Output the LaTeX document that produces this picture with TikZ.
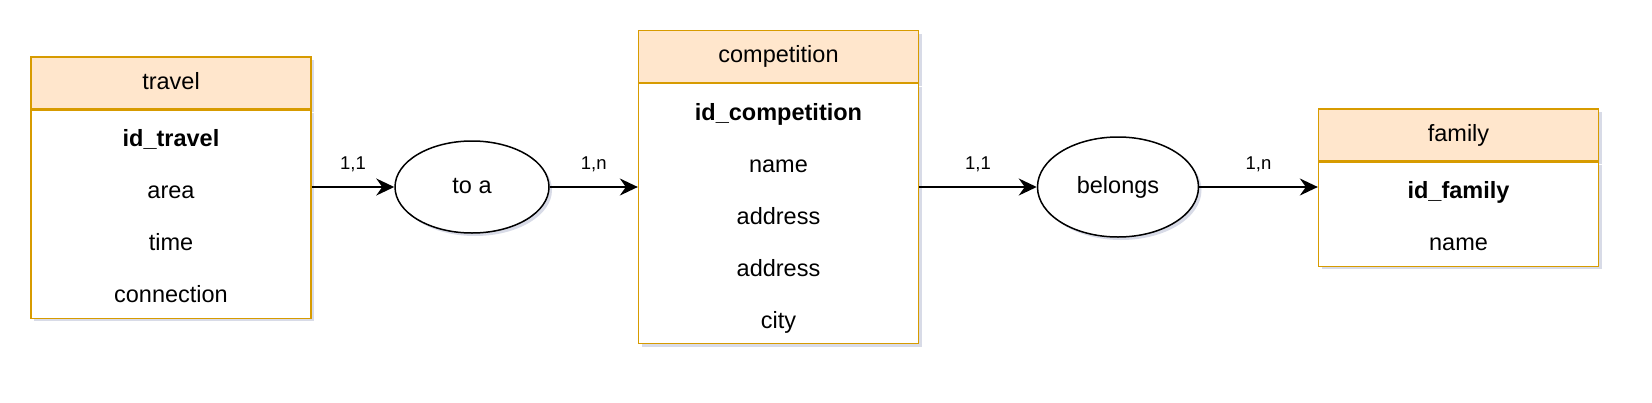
\documentclass[tikz,border=0pt]{standalone}
\usepackage{fontspec}
\setmainfont{Liberation Sans}
\usetikzlibrary{positioning,arrows.meta,shapes.geometric,shadows}

\definecolor{headfill}{HTML}{FFE6CC}
\definecolor{headline}{HTML}{D79B00}
\definecolor{shadecol}{HTML}{7F87B0}

% room above the first and below the last attribute
\newcommand\rowtop{\rule{0pt}{36.4pt}}
\newcommand\rowbot{\rule[-15.6pt]{0pt}{15.6pt}}

\begin{document}
\begin{tikzpicture}[
x=1pt, y=-1pt,
node distance=0pt,
shadowed/.style={
drop shadow={shadow xshift=3pt, shadow yshift=-3pt, fill=shadecol, opacity=0.3}
},
entityhead/.style={
shadowed,
draw=headline,
fill=headfill,
line width=1.3pt,
minimum width=280pt,
minimum height=52pt,
inner sep=0pt,
text height=17pt,
text depth=5pt,
font=\fontsize{23.5}{28}\selectfont
},
entitybody/.style={
shadowed,
draw=headline,
fill=white,
line width=1.3pt,
minimum width=280pt,
inner sep=0pt,
align=center,
font=\fontsize{23.5}{52}\selectfont
},
relation/.style={
shadowed,
ellipse,
draw,
fill=white,
line width=1.5pt,
inner sep=0pt,
text height=17pt,
text depth=5pt,
font=\fontsize{23.5}{28}\selectfont
},
card/.style={
font=\fontsize{18.5}{22}\selectfont,
anchor=base,
yshift=18pt
},
link/.style={
line width=2pt,
-{Stealth[length=18pt,width=17pt,inset=6pt]}
}
]
\useasboundingbox (0,0) rectangle (1652,402);

% entities
\node[entityhead] (travel) at (171,83) {travel};
\node[entitybody, minimum height=208pt, below=of travel] (travelbody)
{\rowtop\textbf{id\_travel}\\area\\time\\connection\rowbot};

\node[entityhead] (competition) at (778.5,56.5) {competition};
\node[entitybody, minimum height=260pt, below=of competition] (competitionbody)
{\rowtop\textbf{id\_competition}\\name\\address\\address\\city\rowbot};

\node[entityhead] (family) at (1458.5,135) {family};
\node[entitybody, minimum height=104pt, below=of family] (familybody)
{\rowtop\textbf{id\_family}\\name\rowbot};

% relations
\node[relation, minimum width=154pt, minimum height=92pt] (toa) at (472,187) {to a};
\node[relation, minimum width=161pt, minimum height=100pt] (belongs) at (1118,187) {belongs};

% links
\draw[link] (travelbody.east |- toa) -- (toa) node[card, midway] {1,1};
\draw[link] (toa) -- (competitionbody.west |- toa) node[card, midway] {1,n};
\draw[link] (competitionbody.east |- belongs) -- (belongs) node[card, midway] {1,1};
\draw[link] (belongs) -- (familybody.west |- belongs) node[card, midway] {1,n};

\end{tikzpicture}
\end{document}
